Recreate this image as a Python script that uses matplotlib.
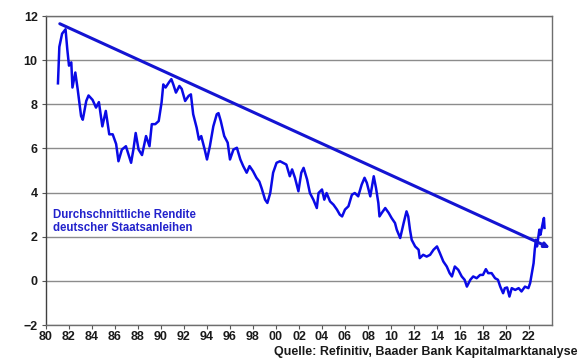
import numpy as np
import matplotlib
matplotlib.use('Agg')
import matplotlib.pyplot as plt

plt.rcParams['font.family'] = ['Liberation Sans', 'DejaVu Sans']

# ── data (year fraction, yield in %) ─────────────────────────────────────────
years = [1981.04, 1981.16, 1981.4, 1981.7, 1981.85, 1982.0, 1982.2, 1982.3, 1982.55, 1982.75,
         1983.05, 1983.2, 1983.5, 1983.7, 1984.05, 1984.35, 1984.6, 1984.9, 1985.2, 1985.5,
         1985.8, 1986.1, 1986.3, 1986.6, 1986.95, 1987.4, 1987.6, 1987.8, 1988.05, 1988.35,
         1988.7, 1989.0, 1989.2, 1989.5, 1989.8, 1990.05, 1990.2, 1990.4, 1990.7, 1990.9,
         1991.07, 1991.3, 1991.6, 1991.8, 1992.1, 1992.4, 1992.6, 1992.8, 1993.1, 1993.3,
         1993.5, 1993.8, 1994.0, 1994.25, 1994.55, 1994.85, 1995.0, 1995.2, 1995.5, 1995.8,
         1996.0, 1996.3, 1996.6, 1996.9, 1997.15, 1997.45, 1997.7, 1998.0, 1998.3, 1998.55,
         1998.75, 1999.05, 1999.25, 1999.5, 1999.75, 2000.05, 2000.35, 2000.6, 2000.9, 2001.2,
         2001.4, 2001.65, 2001.95, 2002.2, 2002.4, 2002.7, 2002.95, 2003.25, 2003.55, 2003.7,
         2004.0, 2004.2, 2004.4, 2004.7, 2005.0, 2005.3, 2005.55, 2005.75, 2006.0, 2006.3,
         2006.6, 2006.85, 2007.15, 2007.45, 2007.7, 2007.9, 2008.2, 2008.5, 2008.7, 2008.9,
         2009.0, 2009.2, 2009.5, 2009.8, 2010.05, 2010.35, 2010.5, 2010.8, 2011.1, 2011.35,
         2011.5, 2011.65, 2011.8, 2012.1, 2012.4, 2012.5, 2012.8, 2013.1, 2013.4, 2013.7,
         2014.0, 2014.25, 2014.55, 2014.85, 2015.1, 2015.3, 2015.55, 2015.85, 2016.15, 2016.4,
         2016.6, 2016.9, 2017.15, 2017.45, 2017.75, 2018.0, 2018.25, 2018.45, 2018.75, 2019.05,
         2019.3, 2019.5, 2019.75, 2019.9, 2020.1, 2020.3, 2020.5, 2020.8, 2021.1, 2021.35,
         2021.65, 2021.95, 2022.1, 2022.25, 2022.4, 2022.5, 2022.6, 2022.7, 2022.9, 2023.0,
         2023.2, 2023.3, 2023.35]
yields = [8.95, 10.6, 11.2, 11.4, 10.5, 9.75, 9.9, 8.76, 9.44, 8.7,
          7.47, 7.3, 8.15, 8.4, 8.2, 7.85, 8.1, 7.0, 7.7, 6.64,
          6.64, 6.2, 5.42, 5.95, 6.1, 5.35, 5.95, 6.7, 5.95, 5.7,
          6.56, 6.1, 7.1, 7.1, 7.24, 8.08, 8.9, 8.76, 9.0, 9.14,
          8.9, 8.53, 8.83, 8.7, 8.15, 8.38, 8.45, 7.55, 6.94, 6.4,
          6.56, 5.95, 5.5, 6.1, 7.0, 7.55, 7.6, 7.24, 6.56, 6.26,
          5.5, 5.95, 6.03, 5.5, 5.2, 4.9, 5.2, 4.97, 4.67, 4.5,
          4.2, 3.68, 3.53, 3.98, 4.9, 5.35, 5.42, 5.35, 5.27, 4.74,
          5.05, 4.67, 4.06, 4.9, 5.12, 4.6, 3.98, 3.68, 3.3, 3.98,
          4.14, 3.68, 3.98, 3.6, 3.45, 3.23, 3.0, 2.92, 3.23, 3.38,
          3.9, 3.98, 3.83, 4.36, 4.67, 4.44, 3.83, 4.74, 4.2, 3.53,
          2.92, 3.08, 3.3, 3.08, 2.85, 2.62, 2.32, 1.94, 2.62, 3.15,
          2.92, 2.32, 1.86, 1.56, 1.41, 1.03, 1.18, 1.1, 1.18, 1.41,
          1.56, 1.26, 0.88, 0.65, 0.35, 0.2, 0.65, 0.5, 0.2, 0.05,
          -0.26, 0.05, 0.2, 0.12, 0.27, 0.27, 0.53, 0.35, 0.35, 0.12,
          0.05, -0.26, -0.56, -0.33, -0.3, -0.71, -0.33, -0.41, -0.33, -0.48,
          -0.26, -0.33, -0.1, 0.35, 0.8, 1.41, 1.86, 1.56, 2.32, 2.09,
          2.62, 2.85, 2.4]

trend_years = [1981.2, 2023.84]
trend_vals = [11.65, 1.49]

label = "Durchschnittliche Rendite\ndeutscher Staatsanleihen"
source = "Quelle: Refinitiv, Baader Bank Kapitalmarktanalyse"
BLUE = "#0a0ae6"
GRID = "#8c8c8c"

fig = plt.figure(figsize=(5.8, 3.59), dpi=100)
ax = fig.add_axes([0.0793, 0.0947, 0.8724, 0.8607])

ax.plot(years, yields, color=BLUE, lw=1.8, solid_joinstyle="round")
ax.annotate("", xy=(trend_years[1], trend_vals[1]), xytext=(trend_years[0], trend_vals[0]),
            arrowprops=dict(arrowstyle="-|>,head_length=0.3,head_width=0.14",
                            color="#1414d2", lw=2.2, shrinkA=0, shrinkB=0))

ax.set_xlim(1980, 2024)
ax.set_ylim(-2, 12)
ax.set_yticks(range(-2, 13, 2))
ax.set_xticks(range(1980, 2023, 2))
ax.set_xticklabels([f"{y % 100:02d}" for y in range(1980, 2023, 2)])
for t in ax.get_xticklabels() + ax.get_yticklabels():
    t.set_fontsize(9)
    t.set_fontweight("bold")
    t.set_color("#1a1a1a")
ax.tick_params(axis="x", direction="out", length=3, width=0.8, color="#555555", pad=1)
ax.tick_params(axis="y", direction="out", length=3, width=0.8, color="#555555", pad=3)

ax.grid(axis="y", color=GRID, lw=1.0)
ax.set_axisbelow(True)
for s in ax.spines.values():
    s.set_color("#6e6e6e")
    s.set_linewidth(1.0)
ax.spines["left"].set_color("#404040")

ax.text(1980.6, 2.68, label, color="#2222cc", fontsize=8.3, fontweight="bold",
        va="center", ha="left", linespacing=1.1)
fig.text(0.995, 0.004, source, ha="right", va="bottom", fontsize=9,
         fontweight="bold", color="#1a1a1a")

plt.savefig("out.png", dpi=100)
plt.close()
